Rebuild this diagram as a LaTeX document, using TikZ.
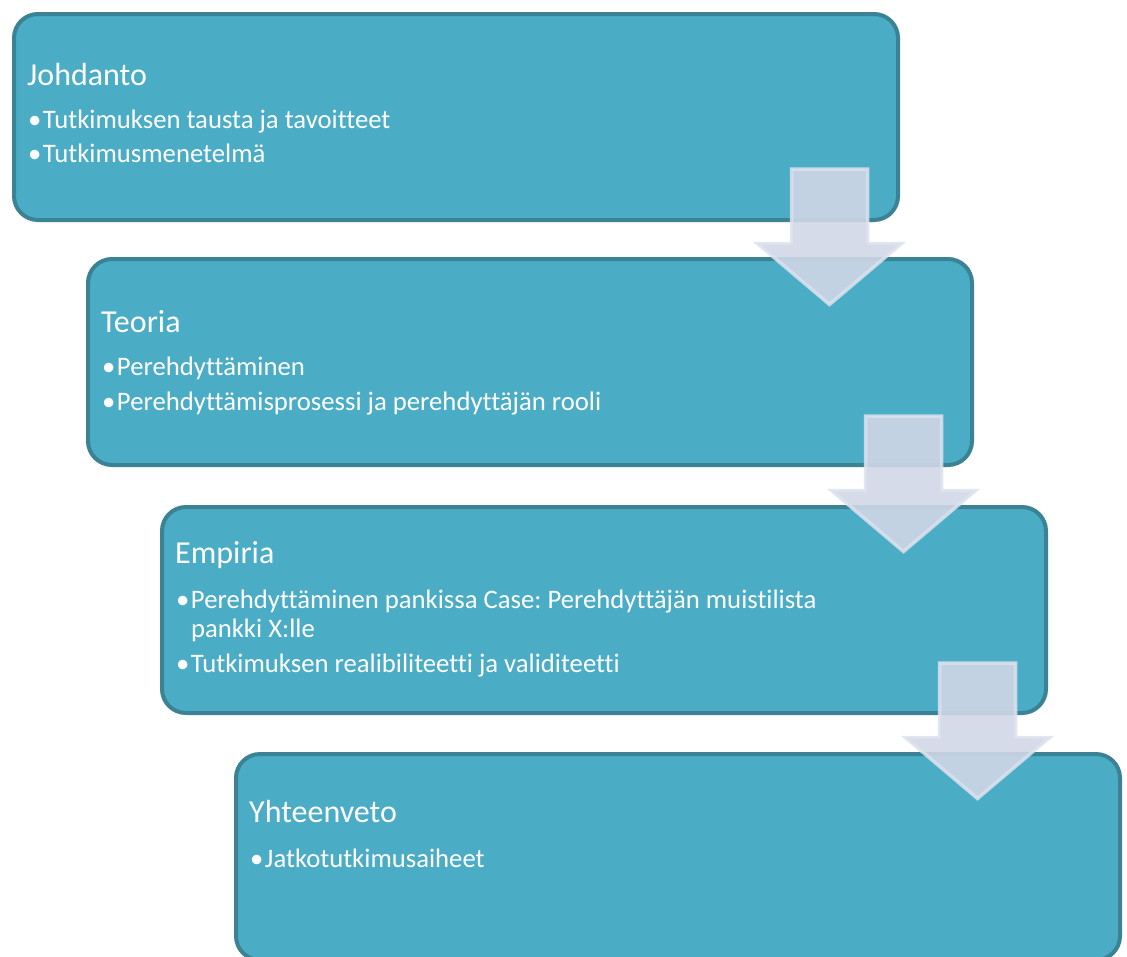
\documentclass[tikz,border=0pt]{standalone}
\usepackage{fontspec}
\setmainfont{Carlito}[Ligatures=NoCommon]
\definecolor{boxfill}{HTML}{4BACC6}
\definecolor{boxline}{HTML}{3A8294}
\definecolor{arrowfill}{HTML}{D0D7E6}
\definecolor{arrowline}{HTML}{DDE2EE}
\newcommand{\bul}{•\kern1.5pt}
\begin{document}
\frenchspacing
\begin{tikzpicture}[x=1pt,y=-1pt,
  stage/.style={draw=boxline, fill=boxfill, line width=4pt, rounded corners=24pt,
    minimum width=884pt, minimum height=206pt, anchor=north west, inner sep=0pt},
  ttl/.style={anchor=base west, inner sep=0pt, text=white, font=\fontsize{32}{38}\selectfont},
  itm/.style={anchor=base west, inner sep=0pt, text=white, font=\fontsize{26.7}{31}\selectfont},
  flow/.style={fill=arrowfill, draw=arrowline, line width=3.5pt, line join=miter,
    fill opacity=0.9, draw opacity=0.85}]
\useasboundingbox (0,0) rectangle (1127,956);
% stages
\node[stage] (b1) at (12,12) {};
\node[stage] (b2) at (86,257) {};
\node[stage] (b3) at (160,505) {};
\node[stage] (b4) at (234,752) {};
% texts
\node[ttl] (t1) at (27,85) {Johdanto};
\node[itm] (t1a) at (28,128) {\bul Tutkimuksen tausta ja tavoitteet};
\node[itm] (t1b) at (28,162) {\bul Tutkimusmenetelmä};
\node[ttl] (t2) at (101,332) {Teoria};
\node[itm] (t2a) at (102,375) {\bul Perehdyttäminen};
\node[itm] (t2b) at (102,410) {\bul Perehdyttämisprosessi ja perehdyttäjän rooli};
\node[ttl] (t3) at (175,563) {Empiria};
\node[itm] (t3a) at (176,608) {\bul Perehdyttäminen pankissa Case: Perehdyttäjän muistilista};
\node[itm] (t3b) at (176,637) {\hphantom{\bul}pankki X:lle};
\node[itm] (t3c) at (176,672) {\bul Tutkimuksen realibiliteetti ja validiteetti};
\node[ttl] (t4) at (249,822) {Yhteenveto};
\node[itm] (t4a) at (250,867) {\bul Jatkotutkimusaiheet};
% arrows
\foreach \k in {0,1,2}{
  \pgfmathsetmacro{\cx}{829.5+74*\k}
  \pgfmathsetmacro{\dy}{247*\k}
  \draw[flow] (\cx-38,169+\dy) -- (\cx+38,169+\dy) -- (\cx+38,243.5+\dy)
    -- (\cx+72,243.5+\dy) -- (\cx,304.5+\dy) -- (\cx-72,243.5+\dy)
    -- (\cx-38,243.5+\dy) -- cycle;
}
\end{tikzpicture}
\end{document}
